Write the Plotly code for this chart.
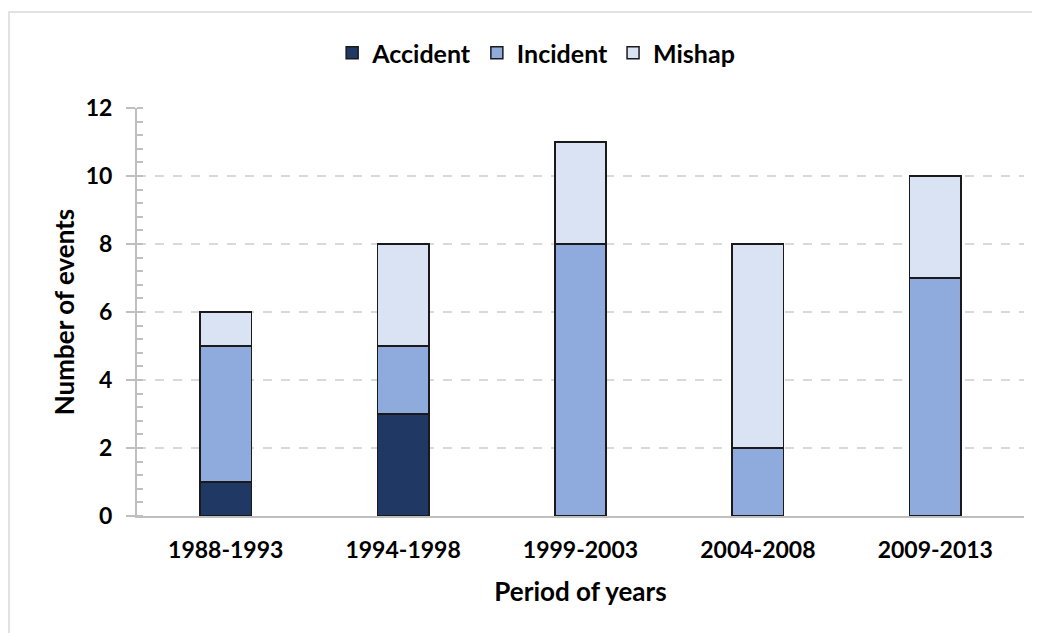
import plotly.graph_objects as go

periods = ["1988-1993", "1994-1998", "1999-2003", "2004-2008", "2009-2013"]
accident = [1, 3, 0, 0, 0]
incident = [4, 2, 8, 2, 7]
mishap = [1, 3, 3, 6, 3]
series_names = ["Accident", "Incident", "Mishap"]
series_colors = ["#1F3864", "#8FAADC", "#DAE3F3"]
y_ticks = [0, 2, 4, 6, 8, 10, 12]

FONT = "Lato"
# page is offset by the 8px body margin
W, H = 1032, 625
L, R, T, B = 129, 16, 100, 117
PW, PH = W - L - R, H - T - B

fig = go.Figure()
for name, vals, col in zip(series_names, [accident, incident, mishap], series_colors):
    fig.add_trace(go.Bar(
        x=periods, y=vals, name=name,
        marker=dict(color=col, line=dict(color="#1a1a1a", width=1.5)),
        width=0.29,
    ))

fig.update_layout(
    barmode="stack",
    width=W, height=H,
    margin=dict(l=L, r=R, t=T, b=B, autoexpand=False),
    paper_bgcolor="white", plot_bgcolor="white",
    font=dict(family=FONT, size=23, color="black"),
    legend=dict(orientation="h", x=0.45, xanchor="center", y=1 + 55 / PH, yanchor="middle",
                font=dict(family=FONT, size=25, color="black", weight="bold"),
                bgcolor="rgba(0,0,0,0)",
                traceorder="normal", itemwidth=30),
    xaxis=dict(
        showline=True, linecolor="#BFBFBF", linewidth=2,
        tickfont=dict(family=FONT, size=23, weight="bold"),
        ticklabelstandoff=12,
        title=dict(text="Period of years", font=dict(family=FONT, size=26, weight="bold"), standoff=21),
        ticks="", showgrid=False,
    ),
    yaxis=dict(
        range=[0, 12], tickvals=y_ticks,
        showline=True, linecolor="#BFBFBF", linewidth=2,
        ticks="outside", ticklen=9, tickcolor="#BFBFBF", tickwidth=2,
        ticklabelstandoff=9,
        minor=dict(dtick=0.4, ticks="inside", ticklen=6, tickcolor="#BFBFBF", tickwidth=1.5, showgrid=False),
        showgrid=True, gridcolor="#D9D9D9", griddash="dash", gridwidth=1.5,
        tickfont=dict(family=FONT, size=23, weight="bold"),
        title=dict(text="Number of events", font=dict(family=FONT, size=26, weight="bold"), standoff=4),
        zeroline=False,
    ),
    shapes=[dict(type="rect", xref="paper", yref="paper",
                 x0=(1 - L) / PW, x1=(W + 20 - L) / PW,
                 y0=-(B + 20) / PH, y1=(PH + T - 4) / PH,
                 line=dict(color="#D9D9D9", width=1.5), fillcolor="rgba(0,0,0,0)", layer="below")],
)

fig.write_html("out.html")
